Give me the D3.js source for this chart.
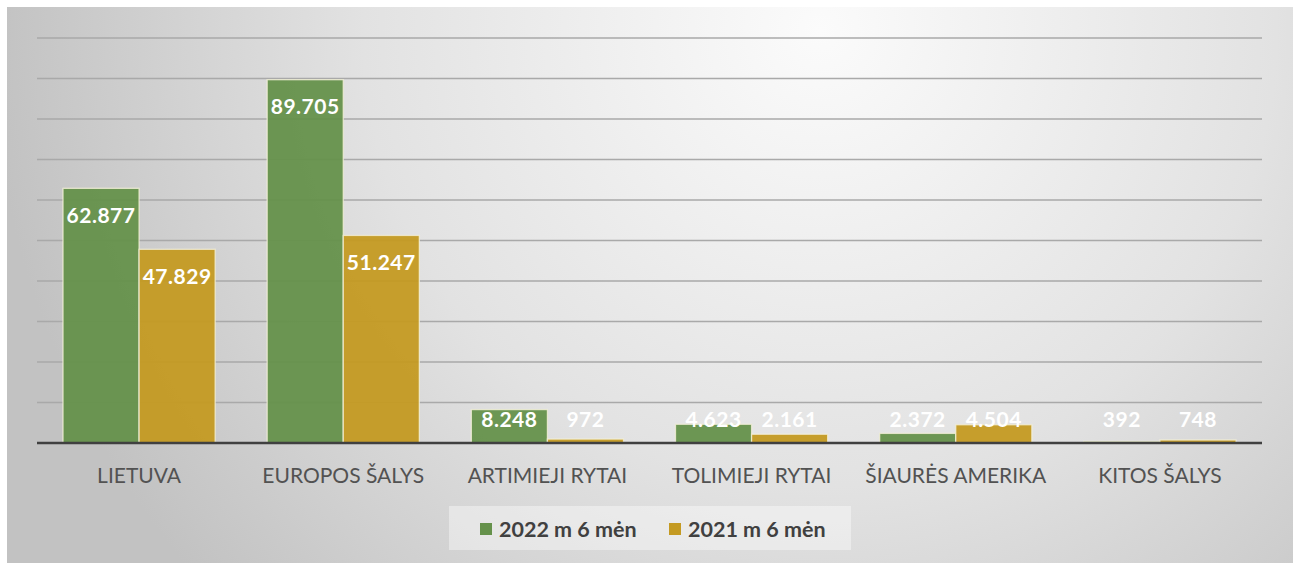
<!DOCTYPE html>
<html>
<head>
<meta charset="utf-8">
<script src="https://cdn.jsdelivr.net/npm/d3@7"></script>
<style>
  body { margin: 0; background: #ffffff; }
  svg { display: block; }
  text { font-family: Lato, "Open Sans", sans-serif; }
</style>
</head>
<body>
<div id="chart"></div>
<script>
const categories = ["LIETUVA", "EUROPOS ŠALYS", "ARTIMIEJI RYTAI", "TOLIMIEJI RYTAI", "ŠIAURĖS AMERIKA", "KITOS ŠALYS"];
const seriesNames = ["2022 m 6 mėn", "2021 m 6 mėn"];
const values2022 = [62877, 89705, 8248, 4623, 2372, 392];
const values2021 = [47829, 51247, 972, 2161, 4504, 748];
const yTicks = [0, 10000, 20000, 30000, 40000, 50000, 60000, 70000, 80000, 90000, 100000];

const colors = ["#65914b", "#c49a22"];

const width = 1295;
const height = 563;

const frame = {x: 7, y: 7, w: 1286, h: 556};
const plot = {left: 37, right: 1262, top: 38, bottom: 443};

const svg = d3.select("#chart")
    .append("svg")
    .attr("width", width)
    .attr("height", height);

// background
const defs = svg.append("defs");
const grad = defs.append("radialGradient")
    .attr("id", "bg")
    .attr("gradientUnits", "userSpaceOnUse")
    .attr("cx", 820)
    .attr("cy", 30)
    .attr("r", 830);
grad.append("stop").attr("offset", 0).attr("stop-color", "#fbfbfb");
grad.append("stop").attr("offset", 0.55).attr("stop-color", "#e2e2e2");
grad.append("stop").attr("offset", 1).attr("stop-color", "#c2c2c2");

svg.append("rect")
    .attr("x", frame.x)
    .attr("y", frame.y)
    .attr("width", frame.w)
    .attr("height", frame.h)
    .attr("fill", "url(#bg)");

const y = d3.scaleLinear()
    .domain([0, 100000])
    .range([plot.bottom, plot.top]);

const x = d3.scaleBand()
    .domain(categories)
    .range([plot.left, plot.right]);

const xs = d3.scaleBand()
    .domain(seriesNames)
    .range([26, x.bandwidth() - 26]);

// gridlines
svg.append("g")
    .selectAll("line")
    .data(yTicks.slice(1))
    .join("line")
    .attr("x1", plot.left)
    .attr("x2", plot.right)
    .attr("y1", d => y(d))
    .attr("y2", d => y(d))
    .attr("stroke", "#a9a9a9")
    .attr("stroke-width", 1.6);

const rows = categories.map((c, i) => ({
    cat: c,
    vals: [
        {name: seriesNames[0], v: values2022[i], color: colors[0]},
        {name: seriesNames[1], v: values2021[i], color: colors[1]}
    ]
}));

const groups = svg.append("g")
    .selectAll("g")
    .data(rows)
    .join("g")
    .attr("transform", d => `translate(${x(d.cat)},0)`);

groups.selectAll("rect")
    .data(d => d.vals)
    .join("rect")
    .attr("x", d => xs(d.name))
    .attr("width", xs.bandwidth())
    .attr("y", d => y(d.v))
    .attr("height", d => y(0) - y(d.v))
    .attr("fill", d => d.color)
    .attr("fill-opacity", 0.95)
    .attr("stroke", "#f4f0d8")
    .attr("stroke-opacity", 0.8)
    .attr("stroke-width", 1.3);

// baseline
svg.append("line")
    .attr("x1", plot.left)
    .attr("x2", plot.right)
    .attr("y1", y(0))
    .attr("y2", y(0))
    .attr("stroke", "#404040")
    .attr("stroke-width", 2.6);

// value labels
const fmt = v => d3.format(",")(v).replace(/,/g, ".");

groups.selectAll("text.val")
    .data(d => d.vals)
    .join("text")
    .attr("class", "val")
    .attr("x", d => xs(d.name) + xs.bandwidth() / 2)
    .attr("y", d => Math.min(y(d.v) + 27, y(0) - 23))
    .attr("dy", "0.35em")
    .attr("text-anchor", "middle")
    .attr("fill", "#ffffff")
    .attr("font-size", 21)
    .attr("font-weight", "bold")
    .attr("letter-spacing", 0.5)
    .text(d => fmt(d.v));

// category axis
svg.append("g")
    .selectAll("text")
    .data(categories)
    .join("text")
    .attr("x", d => x(d) + x.bandwidth() / 2)
    .attr("y", 476)
    .attr("dy", "0.35em")
    .attr("text-anchor", "middle")
    .attr("fill", "#525252")
    .attr("font-size", 21)
    .text(d => d);

// legend
const legend = svg.append("g");
legend.append("rect")
    .attr("x", 449)
    .attr("y", 506)
    .attr("width", 402)
    .attr("height", 44)
    .attr("fill", "#ffffff")
    .attr("fill-opacity", 0.4);

const legendX = [480, 669];
seriesNames.forEach((s, i) => {
    legend.append("rect")
        .attr("x", legendX[i])
        .attr("y", 523)
        .attr("width", 12)
        .attr("height", 12)
        .attr("fill", colors[i]);
    legend.append("text")
        .attr("x", legendX[i] + 19)
        .attr("y", 529)
        .attr("dy", "0.35em")
        .attr("fill", "#404040")
        .attr("font-size", 21.5)
        .attr("font-weight", "bold")
        .text(s);
});
</script>
</body>
</html>
